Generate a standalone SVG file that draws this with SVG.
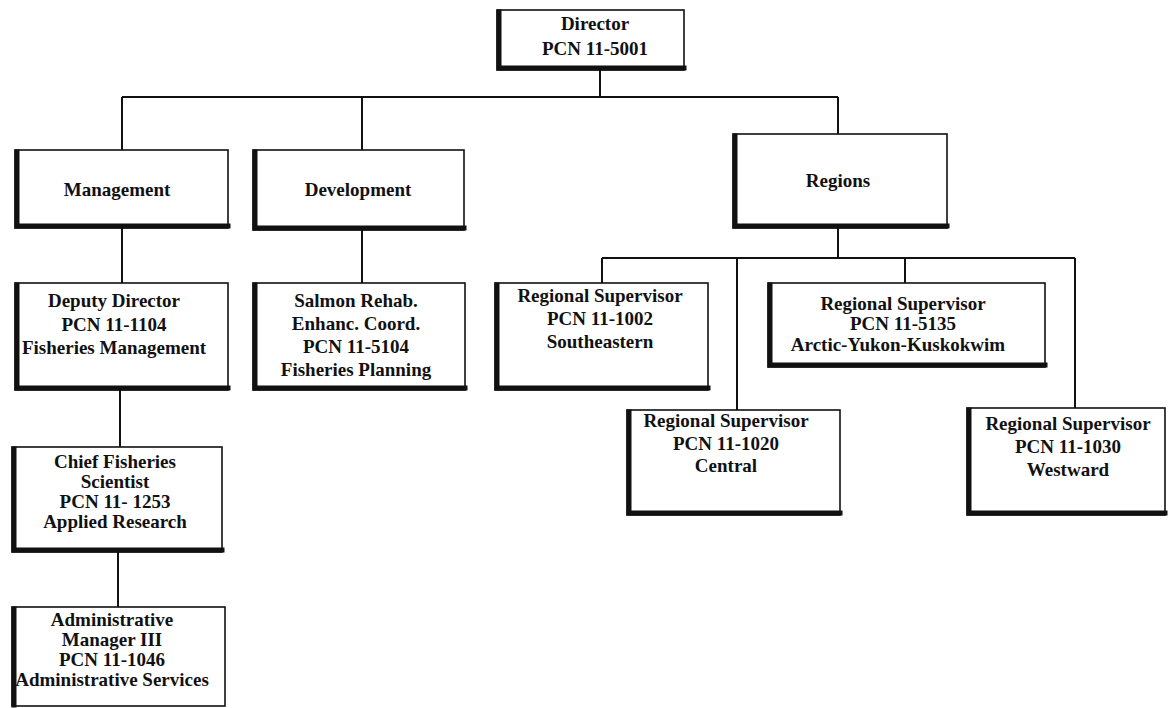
<svg xmlns="http://www.w3.org/2000/svg" width="1168" height="708" viewBox="0 0 1168 708">
<style>
.bx{fill:#fff;stroke:#111;stroke-width:1.6}
.sh{fill:none;stroke:#111;stroke-width:5;stroke-linecap:square}
.ln{fill:none;stroke:#111;stroke-width:2}
text{font-family:"Liberation Serif","DejaVu Serif",serif;font-weight:bold;font-size:19px;fill:#111;text-anchor:middle}
</style>
<rect width="1168" height="708" fill="#fff"/>
<g id="connectors">
<path class="ln" d="M600 70V97M122 97H838M122 97V150M362 97V150M838 97V134M122 228V283M362 230V283M838 228V258M602 258H1075M602 258V283M737 258V410M905 258V283M1075 258V408M120 390V447M118 552V607"/>
</g>
<g id="director">
<rect class="bx" x="497" y="10" width="187" height="60"/>
<path class="sh" d="M499 12V68H684"/>
<text x="595" y="30">Director</text>
<text x="595" y="55">PCN 11-5001</text>
</g>
<g id="management">
<rect class="bx" x="15" y="150" width="213" height="78"/>
<path class="sh" d="M17 152V226H228"/>
<text x="117" y="196">Management</text>
</g>
<g id="development">
<rect class="bx" x="253" y="150" width="211" height="80"/>
<path class="sh" d="M255 152V228H464"/>
<text x="358" y="196">Development</text>
</g>
<g id="regions">
<rect class="bx" x="733" y="134" width="214" height="94"/>
<path class="sh" d="M735 136V226H947"/>
<text x="838" y="187">Regions</text>
</g>
<g id="deputy">
<rect class="bx" x="15" y="283" width="213" height="107"/>
<path class="sh" d="M17 285V388H228"/>
<text x="114" y="307">Deputy Director</text>
<text x="114" y="331">PCN 11-1104</text>
<text x="114" y="354">Fisheries Management</text>
</g>
<g id="salmon">
<rect class="bx" x="253" y="283" width="212" height="107"/>
<path class="sh" d="M255 285V388H465"/>
<text x="356" y="307">Salmon Rehab.</text>
<text x="356" y="330">Enhanc. Coord.</text>
<text x="356" y="353">PCN 11-5104</text>
<text x="356" y="376">Fisheries Planning</text>
</g>
<g id="southeastern">
<rect class="bx" x="495" y="283" width="213" height="107"/>
<path class="sh" d="M497 285V388H708"/>
<text x="600" y="302">Regional Supervisor</text>
<text x="600" y="325">PCN 11-1002</text>
<text x="600" y="348">Southeastern</text>
</g>
<g id="arctic">
<rect class="bx" x="768" y="283" width="277" height="84"/>
<path class="sh" d="M770 285V365H1045"/>
<text x="903" y="310">Regional Supervisor</text>
<text x="903" y="330">PCN 11-5135</text>
<text x="898" y="351">Arctic-Yukon-Kuskokwim</text>
</g>
<g id="central">
<rect class="bx" x="627" y="410" width="213" height="105"/>
<path class="sh" d="M629 412V513H840"/>
<text x="726" y="427">Regional Supervisor</text>
<text x="726" y="450">PCN 11-1020</text>
<text x="726" y="472">Central</text>
</g>
<g id="westward">
<rect class="bx" x="967" y="408" width="198" height="107"/>
<path class="sh" d="M969 410V513H1165"/>
<text x="1068" y="430">Regional Supervisor</text>
<text x="1068" y="453">PCN 11-1030</text>
<text x="1068" y="476">Westward</text>
</g>
<g id="chief">
<rect class="bx" x="12" y="447" width="210" height="105"/>
<path class="sh" d="M14 449V550H222"/>
<text x="115" y="468">Chief Fisheries</text>
<text x="115" y="488">Scientist</text>
<text x="115" y="508">PCN 11- 1253</text>
<text x="115" y="528">Applied Research</text>
</g>
<g id="admin">
<rect class="bx" x="12" y="607" width="213" height="99"/>
<path class="sh" d="M14 609V705"/>
<text x="112" y="626">Administrative</text>
<text x="112" y="646">Manager III</text>
<text x="112" y="666">PCN 11-1046</text>
<text x="112" y="686">Administrative Services</text>
</g>
</svg>
